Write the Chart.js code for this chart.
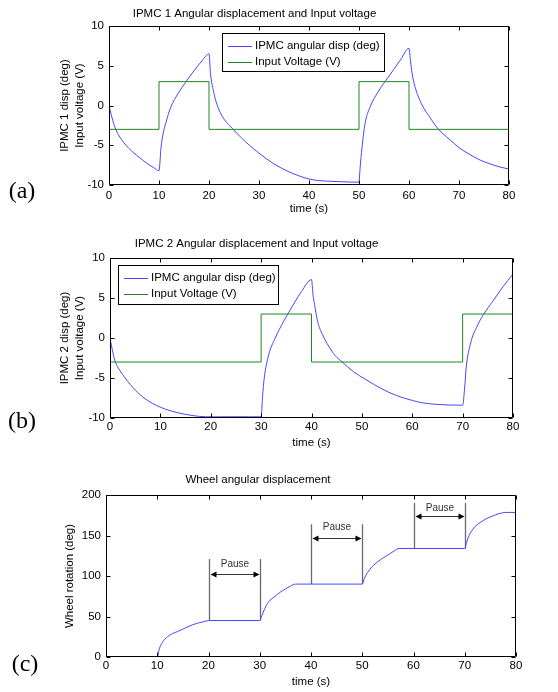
<!DOCTYPE html>
<html>
<head>
<meta charset="utf-8">
<title>IPMC angular displacement</title>
<script src="https://cdn.jsdelivr.net/npm/chart.js@4.4.1/dist/chart.umd.min.js"></script>
<style>
  html, body { margin: 0; padding: 0; background: #fff; }
  #wrap { position: relative; width: 558px; height: 692px; }
  canvas { position: absolute; left: 0; }
</style>
</head>
<body>
<div id="wrap">
  <canvas id="chartA" width="558" height="228" style="top:0"></canvas>
  <canvas id="chartB" width="558" height="228" style="top:228px"></canvas>
  <canvas id="chartC" width="558" height="236" style="top:456px"></canvas>
</div>
<script>
// time ticks (s), same for all panels
var timeTicks = [0, 10, 20, 30, 40, 50, 60, 70, 80];
var voltTicks = [-10, -5, 0, 5, 10];
var wheelTicks = [0, 50, 100, 150, 200];

// (a) IPMC 1
var ipmc1Time = [0, 0.5, 1, 1.5, 2, 3, 4, 5, 6, 7, 8, 9, 10,
  10.4, 10.8, 11.4, 12.3, 13.9, 15.3, 17.1, 18.7, 20,
  20.3, 20.9, 21.5, 22.5, 24.7, 26.6, 28, 30, 33, 36, 38, 40, 42, 45, 47, 50,
  50.2, 50.6, 51.2, 52.2, 53.8, 55.3, 56.9, 58.4, 60,
  60.3, 60.6, 61.2, 62.5, 64.4, 65.9, 68, 70, 72, 74, 76, 78, 80];
var ipmc1Disp = [0, -1.3, -2.4, -3.2, -3.8, -4.7, -5.4, -6.0, -6.5, -7.0, -7.45, -7.85, -8.2,
  -5.3, -3.6, -2.1, -0.3, 1.6, 2.9, 4.45, 5.7, 6.5,
  4.0, 1.8, 0.3, -1.2, -2.9, -4.15, -4.95, -6.0, -7.35, -8.35, -8.85, -9.25, -9.45, -9.55, -9.6, -9.65,
  -8.0, -5.3, -2.3, -0.2, 1.7, 3.1, 4.5, 5.85, 7.2,
  5.6, 4.1, 2.35, 0.2, -1.7, -3.0, -4.2, -5.3, -6.1, -6.8, -7.3, -7.7, -8.0];
var volt1Time = [0, 10, 20, 50, 60, 80];
var volt1Level = [-3, 3, -3, 3, -3, -3];

// (b) IPMC 2
var ipmc2Time = [0, 0.5, 1, 2, 3, 4, 5, 6, 7, 8.5, 10, 11, 13.5, 16.5, 19, 30,
  30.3, 30.6, 31.5, 32.8, 34.4, 35.3, 36.7, 38, 40,
  40.3, 40.6, 41.2, 42.2, 43.4, 44.7, 46.1, 48.3, 50.8, 53.8, 56.9, 60, 62, 65, 70,
  70.4, 70.7, 71.6, 72.9, 74.1, 76, 78, 80];
var ipmc2Disp = [0, -1.6, -2.9, -4.1, -5.0, -5.8, -6.5, -7.1, -7.6, -8.2, -8.65, -8.9, -9.35, -9.7, -9.85, -9.85,
  -7.2, -5.1, -2.1, 0, 2.0, 3.0, 4.5, 5.8, 7.3,
  5.4, 4.2, 2.1, 0.4, -1.0, -2.2, -3.0, -4.2, -5.2, -6.3, -7.2, -7.8, -8.1, -8.3, -8.4,
  -6.25, -3.75, -0.6, 1.5, 2.9, 4.6, 6.4, 8.0];
var volt2Time = [0, 30, 40, 70, 80];
var volt2Level = [-3, 3, -3, 3, 3];

// (c) wheel
var wheelTime = [0, 10, 10.4, 11, 12, 13, 14, 15, 16, 17, 18, 19, 20,
  30, 30.3, 30.6, 31, 31.5, 32, 33, 34, 35, 36, 37,
  50, 50.4, 51, 52, 53, 54, 55, 56, 57.2,
  70, 70.3, 70.7, 71, 71.5, 72, 73, 74, 75, 76, 77, 78, 80];
var wheelAngle = [0, 0, 10, 18, 25, 29, 31.5, 34.5, 37.5, 40, 42, 43.5, 45,
  45, 49, 54, 60, 66, 70, 75, 80, 84, 87.5, 90,
  90, 97, 104, 112, 117.5, 122, 126, 130, 134,
  134, 140, 148, 152, 157, 161, 166, 170, 173, 175.5, 177.5, 178.5, 178.5];

// pause markers in (c)
var pauseStart = [20, 40, 60];
var pauseEnd = [30, 50, 70];
var pauseLow = [45, 90, 134];
var pauseHigh = [121, 164, 190];
var pauseArrow = [102, 147, 174];
var pauseLabel = [114, 160, 183.5];

var FONT = "'Liberation Sans', Arial, Helvetica, sans-serif";
Chart.defaults.font.family = FONT;
Chart.defaults.font.size = 11.5;
Chart.defaults.color = '#000';

function pts(xs, ys) {
  return xs.map(function(x, i) { return {x: x, y: ys[i]}; });
}

// axes box with inward ticks on all four sides
var matlabBox = {
  id: 'matlabBox',
  afterDatasetsDraw: function(chart) {
    var ctx = chart.ctx, a = chart.chartArea;
    var xs = chart.scales.x, ys = chart.scales.y;
    var L = Math.round(a.left) + 0.5, R = Math.round(a.right) - 0.5;
    var T = Math.round(a.top) + 0.5, B = Math.round(a.bottom) - 0.5;
    ctx.save();
    ctx.strokeStyle = '#000';
    ctx.lineWidth = 1;
    ctx.beginPath();
    ctx.rect(L, T, R - L, B - T);
    xs.ticks.forEach(function(t) {
      var px = Math.round(xs.getPixelForValue(t.value)) + 0.5;
      ctx.moveTo(px, B); ctx.lineTo(px, B - 4);
      ctx.moveTo(px, T); ctx.lineTo(px, T + 4);
    });
    ys.ticks.forEach(function(t) {
      var py = Math.round(ys.getPixelForValue(t.value)) + 0.5;
      ctx.moveTo(L, py); ctx.lineTo(L + 4, py);
      ctx.moveTo(R, py); ctx.lineTo(R - 4, py);
    });
    ctx.stroke();
    ctx.restore();
  }
};

// framed legend inside the axes
var boxLegend = {
  id: 'boxLegend',
  afterDatasetsDraw: function(chart, args, opts) {
    if (!opts.show) return;
    var ctx = chart.ctx, a = chart.chartArea;
    var x = Math.round(a.left + opts.dx), y = Math.round(a.top + opts.dy);
    ctx.save();
    ctx.fillStyle = '#fff';
    ctx.fillRect(x, y, opts.w, opts.h);
    ctx.strokeStyle = '#000';
    ctx.lineWidth = 1;
    ctx.strokeRect(x + 0.5, y + 0.5, opts.w, opts.h);
    ctx.font = '11.5px ' + FONT;
    ctx.textBaseline = 'middle';
    chart.data.datasets.forEach(function(ds, i) {
      var ly = y + 13 + i * 16;
      ctx.strokeStyle = ds.borderColor;
      ctx.beginPath();
      ctx.moveTo(x + 6, ly + 0.5);
      ctx.lineTo(x + 30, ly + 0.5);
      ctx.stroke();
      ctx.fillStyle = '#000';
      ctx.fillText(ds.label, x + 33, ly);
    });
    ctx.restore();
  }
};

// "(a)", "(b)", "(c)" panel tags
var panelTag = {
  id: 'panelTag',
  afterDraw: function(chart, args, opts) {
    var ctx = chart.ctx;
    ctx.save();
    ctx.font = "24px 'Liberation Serif', 'Times New Roman', serif";
    ctx.fillStyle = '#000';
    ctx.textAlign = 'center';
    ctx.textBaseline = 'middle';
    ctx.fillText(opts.text, opts.x, opts.y);
    ctx.restore();
  }
};

// pause brackets for the wheel panel
var pauseMarks = {
  id: 'pauseMarks',
  beforeDatasetsDraw: function(chart, args, opts) {
    if (!opts.show) return;
    var ctx = chart.ctx, xs = chart.scales.x, ys = chart.scales.y;
    ctx.save();
    pauseStart.forEach(function(t0, i) {
      var x0 = Math.round(xs.getPixelForValue(t0)) + 0.5;
      var x1 = Math.round(xs.getPixelForValue(pauseEnd[i])) + 0.5;
      var yLo = ys.getPixelForValue(pauseLow[i]);
      var yHi = ys.getPixelForValue(pauseHigh[i]);
      var yA = Math.round(ys.getPixelForValue(pauseArrow[i])) + 0.5;
      var yL = ys.getPixelForValue(pauseLabel[i]);
      ctx.strokeStyle = '#6a6a6a';
      ctx.lineWidth = 1.3;
      ctx.beginPath();
      ctx.moveTo(x0, yLo); ctx.lineTo(x0, yHi);
      ctx.moveTo(x1, yLo); ctx.lineTo(x1, yHi);
      ctx.stroke();
      ctx.strokeStyle = '#333';
      ctx.lineWidth = 1;
      ctx.beginPath();
      ctx.moveTo(x0 + 2, yA); ctx.lineTo(x1 - 2, yA);
      ctx.stroke();
      ctx.fillStyle = '#000';
      ctx.beginPath();
      ctx.moveTo(x0 + 1, yA); ctx.lineTo(x0 + 7, yA - 3); ctx.lineTo(x0 + 7, yA + 3); ctx.closePath();
      ctx.moveTo(x1 - 1, yA); ctx.lineTo(x1 - 7, yA - 3); ctx.lineTo(x1 - 7, yA + 3); ctx.closePath();
      ctx.fill();
      ctx.fillStyle = '#333';
      ctx.font = '10px ' + FONT;
      ctx.textAlign = 'center';
      ctx.textBaseline = 'middle';
      ctx.fillText('Pause', (x0 + x1) / 2, yL);
    });
    ctx.restore();
  }
};

function makeChart(id, cfg) {
  return new Chart(document.getElementById(id), {
    type: 'line',
    data: { datasets: cfg.datasets },
    options: {
      responsive: false,
      animation: false,
      layout: { padding: { left: 0, right: cfg.padRight, top: 0, bottom: cfg.padBottom } },
      elements: { point: { radius: 0 } },
      plugins: {
        legend: { display: false },
        tooltip: { enabled: false },
        title: {
          display: true, text: cfg.title, color: '#000',
          font: { size: 11.5, weight: 'normal' },
          padding: { top: cfg.titleTop, bottom: cfg.titleBottom }
        },
        boxLegend: cfg.legend || { show: false },
        pauseMarks: { show: !!cfg.pauses },
        panelTag: cfg.tag
      },
      scales: {
        x: {
          type: 'linear', min: 0, max: 80,
          afterBuildTicks: function(s) { s.ticks = timeTicks.map(function(v) { return {value: v}; }); },
          afterFit: function(s) { s.height = cfg.xHeight; },
          grid: { display: false, drawTicks: false },
          border: { display: false },
          ticks: { padding: cfg.xTickPad, maxRotation: 0, color: '#000' },
          title: { display: true, text: 'time (s)', color: '#000', padding: { top: 0, bottom: 0 } }
        },
        y: {
          type: 'linear', min: cfg.yTicks[0], max: cfg.yTicks[cfg.yTicks.length - 1],
          afterBuildTicks: function(s) { s.ticks = cfg.yTicks.map(function(v) { return {value: v}; }); },
          afterFit: function(s) { s.width = cfg.left; },
          grid: { display: false, drawTicks: false },
          border: { display: false },
          ticks: { padding: 5, color: '#000' },
          title: {
            display: true, text: cfg.yTitle, color: '#000',
            font: { size: 11.5, lineHeight: 1.25 },
            padding: { top: cfg.yTitleOffset, bottom: 0 }
          }
        }
      }
    },
    plugins: [pauseMarks, matlabBox, boxLegend, panelTag]
  });
}

var BLUE = 'rgb(70, 70, 255)';
var GREEN = 'rgb(30, 135, 30)';

makeChart('chartA', {
  title: 'IPMC 1 Angular displacement and Input voltage',
  yTitle: ['IPMC 1 disp (deg)', 'Input voltage (V)'],
  yTicks: voltTicks,
  left: 109, padRight: 49, padBottom: 12, xHeight: 31, xTickPad: 4,
  titleTop: 7.1, titleBottom: 5.1, yTitleOffset: 58,
  legend: { show: true, dx: 113, dy: 7, w: 162, h: 38 },
  tag: { text: '(a)', x: 22, y: 192 },
  datasets: [
    { label: 'IPMC angular disp (deg)', data: pts(ipmc1Time, ipmc1Disp), borderColor: BLUE,
      borderWidth: 1, cubicInterpolationMode: 'monotone', order: 1 },
    { label: 'Input Voltage (V)', data: pts(volt1Time, volt1Level), borderColor: GREEN,
      borderWidth: 1, stepped: 'before', order: 0 }
  ]
});

makeChart('chartB', {
  title: 'IPMC 2 Angular displacement and Input voltage',
  yTitle: ['IPMC 2 disp (deg)', 'Input voltage (V)'],
  yTicks: voltTicks,
  left: 110, padRight: 45, padBottom: 6, xHeight: 32, xTickPad: 2,
  titleTop: 9.1, titleBottom: 7.1, yTitleOffset: 58,
  legend: { show: true, dx: 8, dy: 7, w: 160, h: 39 },
  tag: { text: '(b)', x: 22, y: 194 },
  datasets: [
    { label: 'IPMC angular disp (deg)', data: pts(ipmc2Time, ipmc2Disp), borderColor: BLUE,
      borderWidth: 1, cubicInterpolationMode: 'monotone', order: 1 },
    { label: 'Input Voltage (V)', data: pts(volt2Time, volt2Level), borderColor: GREEN,
      borderWidth: 1, stepped: 'before', order: 0 }
  ]
});

makeChart('chartC', {
  title: 'Wheel angular displacement',
  yTitle: 'Wheel rotation (deg)',
  yTicks: wheelTicks,
  left: 106, padRight: 42, padBottom: 3, xHeight: 32, xTickPad: 2,
  titleTop: 17.1, titleBottom: 8.1, yTitleOffset: 63,
  pauses: true,
  tag: { text: '(c)', x: 25, y: 209 },
  datasets: [
    { label: 'Wheel rotation', data: pts(wheelTime, wheelAngle), borderColor: BLUE,
      borderWidth: 1, cubicInterpolationMode: 'monotone' }
  ]
});
</script>
</body>
</html>
